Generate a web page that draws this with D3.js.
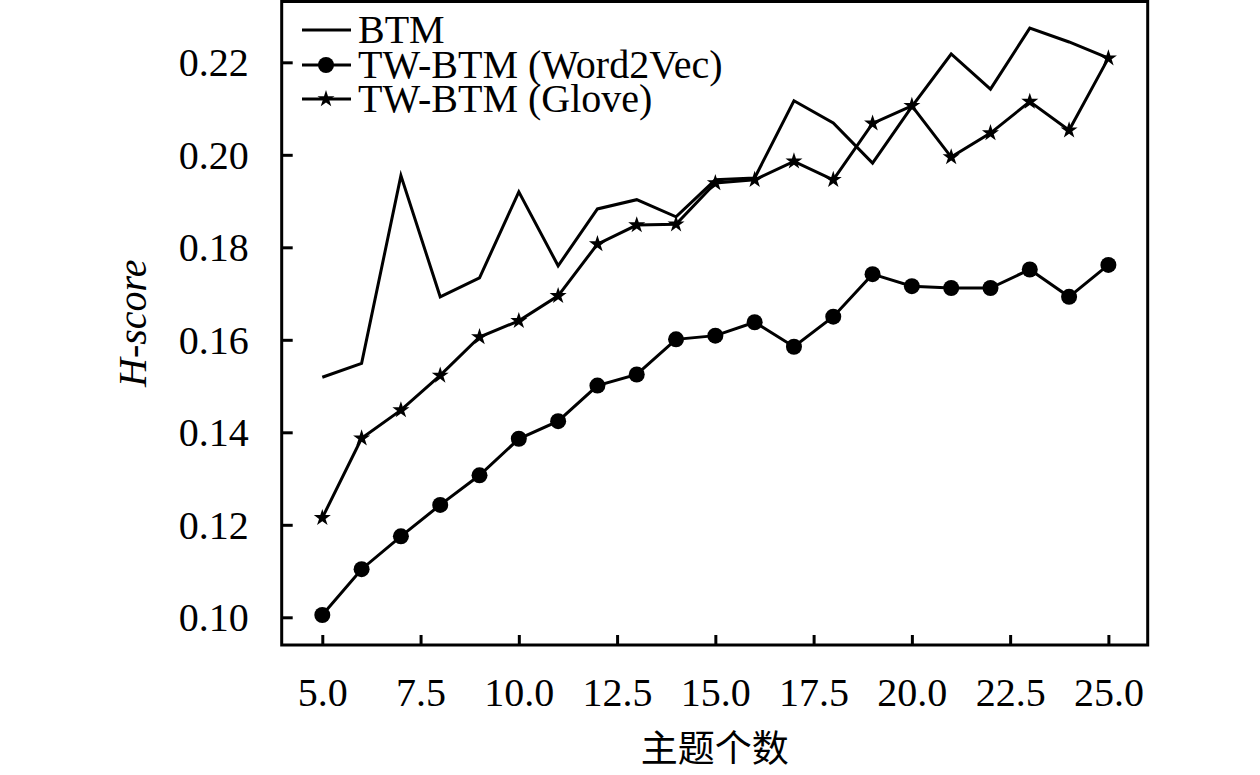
<!DOCTYPE html>
<html><head><meta charset="utf-8">
<script src="https://cdn.jsdelivr.net/npm/d3@7"></script>
<style>body{margin:0;background:#fff}svg{display:block}</style>
</head><body>
<svg id="c" width="1260" height="775"></svg>
<script>
const topics = [5,6,7,8,9,10,11,12,13,14,15,16,17,18,19,20,21,22,23,24,25];
const btm = [0.1519,0.1549,0.1955,0.1693,0.1734,0.1920,0.1760,0.1883,0.1903,0.1866,0.1946,0.1950,0.2117,0.2069,0.1982,0.2104,0.2218,0.2142,0.2274,0.2244,0.2209];
const w2v = [0.1005,0.1104,0.1175,0.1243,0.1307,0.1386,0.1424,0.1501,0.1525,0.1601,0.1609,0.1638,0.1585,0.1650,0.1742,0.1716,0.1712,0.1712,0.1752,0.1693,0.1762];
const glove = [0.1215,0.1387,0.1448,0.1523,0.1606,0.1641,0.1695,0.1807,0.1848,0.1850,0.1939,0.1946,0.1986,0.1946,0.2068,0.2106,0.1995,0.2047,0.2115,0.2053,0.2209];
const xTicks = [5,7.5,10,12.5,15,17.5,20,22.5,25];
const yTicks = [0.10,0.12,0.14,0.16,0.18,0.20,0.22];
const seriesNames = ["BTM","TW-BTM (Word2Vec)","TW-BTM (Glove)"];
const xTitle = "主题个数";
const yTitle = "H-score";

const svg = d3.select("#c");
const L = 281.7, R = 1147.7, T = 1.5, B = 645;
const x = d3.scaleLinear().domain([3.967, 26.0]).range([L, R]);
const y = d3.scaleLinear().domain([0.09401, 0.23315]).range([B, T]);
const serif = "'Liberation Serif','Times New Roman',serif";

// axes (inward ticks)
const gx = svg.append("g").attr("transform", `translate(0,${B})`)
  .call(d3.axisBottom(x).tickValues(xTicks).tickSize(-10).tickSizeOuter(0).tickFormat(d3.format(".1f")));
gx.select(".domain").remove();
gx.selectAll("line").attr("stroke","#000").attr("stroke-width",3);
gx.selectAll("text").attr("font-family",serif).attr("font-size",40).attr("fill","#000")
  .attr("y",0).attr("dy",0).attr("transform","translate(0,61)").attr("text-anchor","middle");

const gy = svg.append("g").attr("transform", `translate(${L},0)`)
  .call(d3.axisLeft(y).tickValues(yTicks).tickSize(-11).tickSizeOuter(0).tickFormat(d3.format(".2f")));
gy.select(".domain").remove();
gy.selectAll("line").attr("stroke","#000").attr("stroke-width",3);
gy.selectAll("text").attr("font-family",serif).attr("font-size",40).attr("fill","#000")
  .attr("x",-33).attr("dy","0.33em").attr("text-anchor","end");

// frame
svg.append("rect").attr("x",L).attr("y",T).attr("width",R-L).attr("height",B-T)
  .attr("fill","none").attr("stroke","#000").attr("stroke-width",3);

const line = d3.line().x((d,i)=>x(topics[i])).y(d=>y(d));
const star = d3.symbol().type(d3.symbolStar).size(90);

function drawLine(vals){
  svg.append("path").datum(vals).attr("d",line).attr("fill","none")
    .attr("stroke","#000").attr("stroke-width",3).attr("stroke-linejoin","miter");
}
drawLine(btm);
drawLine(w2v);
drawLine(glove);
svg.append("g").selectAll("circle").data(w2v).join("circle")
  .attr("cx",(d,i)=>x(topics[i])).attr("cy",d=>y(d)).attr("r",8).attr("fill","#000");
svg.append("g").selectAll("path").data(glove).join("path")
  .attr("d",star).attr("transform",(d,i)=>`translate(${x(topics[i])},${y(d)})`).attr("fill","#000");

// legend
const legY = [30,65,99];
const lg = svg.append("g");
seriesNames.forEach((n,i)=>{
  lg.append("line").attr("x1",302).attr("x2",351).attr("y1",legY[i]).attr("y2",legY[i])
    .attr("stroke","#000").attr("stroke-width",3);
  lg.append("text").attr("x",358).attr("y",legY[i]).attr("dy","0.33em")
    .attr("font-family",serif).attr("font-size",40).attr("fill","#000").text(n);
});
lg.append("circle").attr("cx",326).attr("cy",legY[1]).attr("r",8).attr("fill","#000");
lg.append("path").attr("d",star).attr("transform",`translate(326,${legY[2]})`).attr("fill","#000");

// titles
svg.append("text").attr("x",(L+R)/2).attr("y",762).attr("text-anchor","middle")
  .attr("font-family","'Noto Sans CJK SC',sans-serif").attr("font-size",37).attr("fill","#000").text(xTitle);
svg.append("text").attr("transform",`translate(146,${(T+B)/2}) rotate(-90)`).attr("text-anchor","middle")
  .attr("font-family",serif).attr("font-style","italic").attr("font-size",40).attr("fill","#000").text(yTitle);
</script>
</body></html>
